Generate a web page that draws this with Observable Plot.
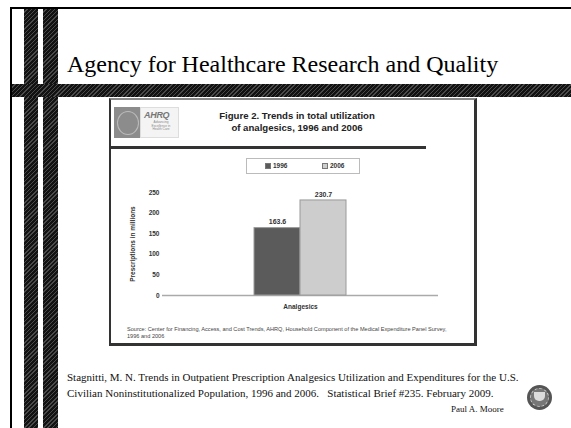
<!DOCTYPE html>
<html><head><meta charset="utf-8">
<script src="https://cdn.jsdelivr.net/npm/d3@7"></script>
<script src="https://cdn.jsdelivr.net/npm/@observablehq/plot@0.6"></script>
<style>
body{margin:0;background:#fff;}
#slide{position:relative;width:571px;height:428px;overflow:hidden;background:#fff;}
.abs{position:absolute;}
.hatch{background:repeating-linear-gradient(135deg,#121212 0 2px,#4a4a4a 2px 3px);}
.sans{font-family:'Liberation Sans',Arial,sans-serif;}
.serif{font-family:'Liberation Serif','Times New Roman',serif;}
</style></head><body>
<div id="slide">
  <div class="abs" style="left:10px;top:7px;width:561px;height:2px;background:#000"></div>
  <div class="abs" style="left:10px;top:7px;width:2px;height:421px;background:#000"></div>
  <div class="abs hatch" style="left:24px;top:9px;width:14px;height:419px"></div>
  <div class="abs hatch" style="left:43px;top:9px;width:15px;height:419px"></div>
  <div class="abs hatch" style="left:12px;top:84px;width:559px;height:13px"></div>
  <div class="abs serif" style="left:67px;top:50px;font-size:24px;line-height:28px;color:#000;white-space:nowrap">Agency for Healthcare Research and Quality</div>

  <!-- figure box -->
  <div class="abs" style="left:109px;top:98px;width:363px;height:243px;border-top:2px solid #888;border-left:2px solid #333;border-right:3px solid #333;border-bottom:3px solid #333;background:#fff"></div>
  <div class="abs" style="left:111px;top:146px;width:315px;height:3px;background:#333"></div>
  <!-- logo -->
  <div class="abs" style="left:114px;top:107px;width:26px;height:31px;background:#8c8c8c"></div>
  <div class="abs" style="left:117px;top:111px;width:20px;height:22px;border:1px solid #bbb;border-radius:50%"></div>
  <div class="abs" style="left:140px;top:107px;width:39px;height:31px;background:#f4f4f4;border:1px solid #ddd;box-sizing:border-box"></div>
  <div class="abs sans" style="left:144px;top:110px;font-size:9px;font-weight:bold;font-style:italic;color:#777;letter-spacing:-0.3px">AHRQ</div>
  <div class="abs sans" style="left:146px;top:121px;width:30px;font-size:3.2px;line-height:3.6px;color:#888;text-align:center">Advancing<br>Excellence in<br>Health Care</div>
  <!-- figure title -->
  <div class="abs sans" style="left:197px;top:110px;width:200px;text-align:center;font-size:9.6px;line-height:12px;font-weight:bold;color:#222">Figure 2. Trends in total utilization<br>of analgesics, 1996 and 2006</div>
  <!-- legend -->
  <div id="legend" class="abs sans" style="left:246px;top:158px;width:112px;height:14px;border:1px solid #bbb;font-size:6.5px;font-weight:bold;color:#333"></div>
  <div id="chart" class="abs" style="left:109px;top:180px"></div>
  <div class="abs sans" style="left:127px;top:326px;font-size:5.6px;line-height:7px;color:#444;white-space:nowrap">Source: Center for Financing, Access, and Cost Trends, AHRQ, Household Component of the Medical Expenditure Panel Survey,<br>1996 and 2006</div>

  <div class="abs serif" style="left:67px;top:369px;font-size:11px;line-height:16px;color:#111;white-space:nowrap">Stagnitti, M. N. Trends in Outpatient Prescription Analgesics Utilization and Expenditures for the U.S.<br>Civilian Noninstitutionalized Population, 1996 and 2006. &nbsp;&nbsp;Statistical Brief #235. February 2009.</div>
  <div class="abs serif" style="left:451px;top:404px;font-size:9px;line-height:11px;color:#111;white-space:nowrap">Paul A. Moore</div>
  <div class="abs" style="left:527px;top:385px;width:25px;height:25px;border-radius:50%;background:#555;"></div>
  <div class="abs" style="left:530px;top:388px;width:17px;height:17px;border-radius:50%;border:1px dashed #ccc;background:#777"></div>
  <div class="abs" style="left:534px;top:392px;width:11px;height:9px;background:#ddd;border-radius:0 0 5px 5px"></div>
</div>
<script>
const categories = ["Analgesics"];
const years = ["1996", "2006"];
const values = [163.6, 230.7];
const yTicks = [0, 50, 100, 150, 200, 250];
const colors = ["#5b5b5b", "#cdcdcd"];
const strokes = ["#9a9a9a", "#9a9a9a"];

const rows = years.map((yr, i) => ({category: categories[0], year: yr, value: values[i]}));

const chart = Plot.plot({
  width: 367, height: 130,
  marginLeft: 53, marginRight: 38, marginTop: 12, marginBottom: 15,
  style: {fontFamily: "'Liberation Sans', Arial, sans-serif", fontSize: "6.5px", fontWeight: "bold", color: "#333", background: "transparent", overflow: "visible"},
  x: {domain: years, paddingInner: 0, paddingOuter: 1.97, tickFormat: () => "", tickSize: 0, label: categories[0], labelAnchor: "center", labelOffset: 13},
  y: {domain: [0, 250], ticks: yTicks, tickSize: 0, tickPadding: 3, label: "Prescriptions in millions", labelAnchor: "center", labelOffset: 32, labelArrow: "none"},
  color: {domain: years, range: colors},
  marks: [
    Plot.ruleY([0], {stroke: "#aaa", strokeWidth: 1.5}),
    Plot.barY(rows, {x: "year", y: "value", fill: "year", stroke: (d, i) => strokes[i], strokeWidth: 1}),
    Plot.text(rows, {x: "year", y: "value", text: d => d.value.toFixed(1), dy: -6, fontSize: 7, fill: "#333"})
  ]
});
document.getElementById("chart").append(chart);

// legend from the same arrays
const legend = document.getElementById("legend");
years.forEach((yr, i) => {
  const item = document.createElement("div");
  item.style.cssText = `position:absolute;top:3px;left:${i === 0 ? 18 : 75}px;display:flex;align-items:center;gap:2px;line-height:8px`;
  const sw = document.createElement("span");
  sw.style.cssText = `display:inline-block;width:4px;height:4px;background:${colors[i]};border:0.5px solid #777`;
  const t = document.createElement("span");
  t.textContent = yr;
  item.append(sw, t);
  legend.append(item);
});
</script>
</body></html>
